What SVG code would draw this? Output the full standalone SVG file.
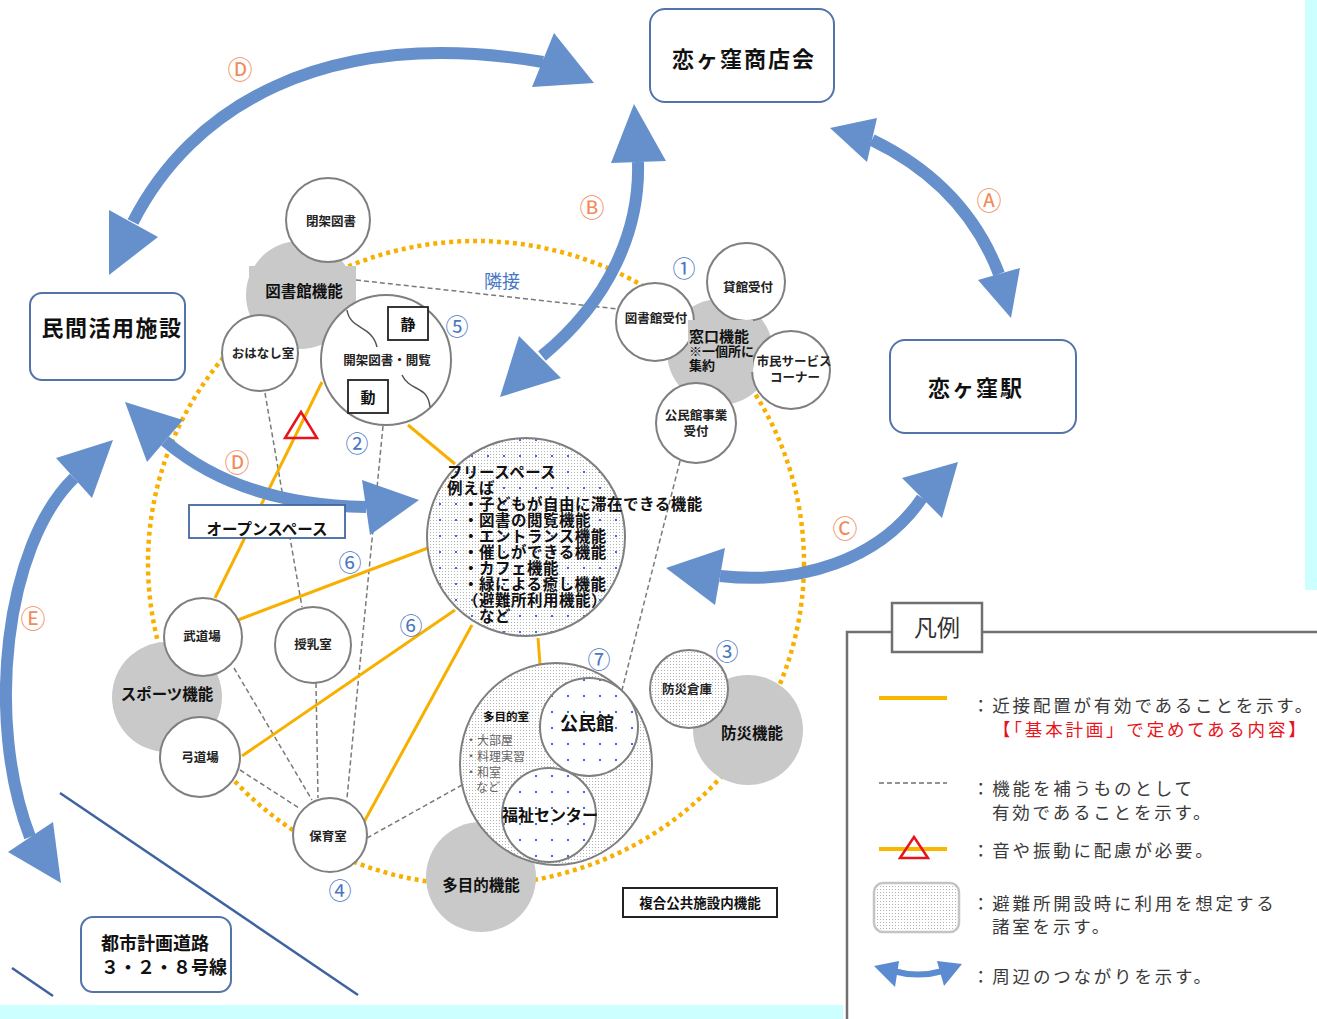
<svg xmlns="http://www.w3.org/2000/svg" width="1317" height="1019" viewBox="0 0 1317 1019">
<defs>
<style>
text{font-family:"Noto Sans CJK JP","Noto Sans",sans-serif;fill:#111}
.box{fill:#fff;stroke:#5374aa;stroke-width:2}
.big{font-size:22px;font-weight:700;letter-spacing:2px;text-anchor:middle}
.node{fill:#fff;stroke:#7f7f7f;stroke-width:2}
.func{fill:#c9c9c9}
.flbl{font-size:15.5px;font-weight:700;text-anchor:middle}
.nlbl{font-size:12.5px;font-weight:700;text-anchor:middle;fill:#222}
.orange{stroke:#f8b000;stroke-width:3;fill:none}
.dash{stroke:#7a7a7a;stroke-width:1.5;stroke-dasharray:5 3;fill:none}
.arrow{stroke:#6690cc;stroke-width:12;fill:none}
.head{fill:#6690cc}
.num{font-size:23px;fill:#4a78c4;text-anchor:middle;dominant-baseline:central}
.let{font-size:25px;fill:#f28b5b;text-anchor:middle;dominant-baseline:central}
.leg{font-size:17.5px;fill:#3a3a3a;letter-spacing:2.8px}
.fs{font-size:15.5px;font-weight:700;letter-spacing:0.5px}
</style>
<pattern id="stip" width="3" height="3" patternUnits="userSpaceOnUse"><rect width="3" height="3" fill="#fff"/><rect x="1" y="1" width="1" height="1" fill="#b4b4b4"/></pattern>
<pattern id="bdot" width="16" height="16" patternUnits="userSpaceOnUse"><rect x="7" y="7" width="2" height="2" fill="#3d6fd6"/></pattern>
</defs>
<rect width="1317" height="1019" fill="#fff"/>
<rect x="1305" y="0" width="12" height="590" fill="#ccffff"/>
<rect x="0" y="1005" width="843" height="14" fill="#ccffff"/>

<g id="road-lines" stroke="#3f62a0" stroke-width="2.5">
<line x1="60" y1="793" x2="358" y2="995"/>
<line x1="12" y1="968" x2="53" y2="996"/>
</g>

<ellipse id="boundary" cx="476" cy="563" rx="328" ry="322" fill="none" stroke="#f8b000" stroke-width="4.5" stroke-dasharray="4 4"/>

<g id="connectors">
<line class="dash" x1="356" y1="280" x2="618" y2="309"/>
<line class="dash" x1="265" y1="393" x2="302" y2="607"/>
<line class="dash" x1="383" y1="426" x2="347" y2="798"/>
<line class="dash" x1="316" y1="683" x2="318" y2="798"/>
<line class="dash" x1="234" y1="668" x2="312" y2="800"/>
<line class="dash" x1="240" y1="770" x2="299" y2="808"/>
<line class="dash" x1="367" y1="838" x2="462" y2="785"/>
<line class="dash" x1="680" y1="461" x2="622" y2="690"/>
<line class="orange" x1="322" y1="382" x2="215" y2="598"/>
<line class="orange" x1="408" y1="425" x2="455" y2="464"/>
<line class="orange" x1="238" y1="620" x2="428" y2="548"/>
<line class="orange" x1="242" y1="756" x2="455" y2="610"/>
<line class="orange" x1="364" y1="822" x2="472" y2="625"/>
<line class="orange" x1="538" y1="638" x2="540" y2="664"/>
<polygon id="noise-mark" points="301,412 317,438 285,438" fill="none" stroke="#e8141b" stroke-width="2.5"/>
<text x="502" y="288" font-size="18" text-anchor="middle" style="fill:#4a78c4">隣接</text>
</g>

<g id="library-function">
<circle class="func" cx="300" cy="295" r="54"/>
<rect class="func" x="249" y="266" width="107" height="38"/>
<text class="flbl" x="304" y="297">図書館機能</text>
</g>
<g id="sports-function">
<circle class="func" cx="167" cy="697" r="55"/>
<text class="flbl" x="167" y="700">スポーツ機能</text>
</g>
<g id="disaster-function">
<circle class="func" cx="748" cy="730" r="55"/>
<text class="flbl" x="752" y="739">防災機能</text>
</g>
<g id="multipurpose-function">
<circle class="func" cx="481" cy="877" r="55"/>
<text class="flbl" x="481" y="891">多目的機能</text>
</g>
<g id="window-function-area">
<circle class="func" cx="720" cy="352" r="53"/>
</g>

<g id="closed-stacks"><circle class="node" cx="328" cy="220" r="42"/><text class="nlbl" x="331" y="226">閉架図書</text></g>
<g id="storytelling-room"><circle class="node" cx="260" cy="353" r="38"/><text class="nlbl" x="263" y="358">おはなし室</text></g>
<g id="open-stacks">
<circle class="node" cx="386" cy="360" r="65"/>
<path d="M347,310 C350,330 372,325 377,347" fill="none" stroke="#555" stroke-width="1.5"/>
<path d="M402,375 C410,392 428,385 430,407" fill="none" stroke="#555" stroke-width="1.5"/>
<rect x="388" y="307" width="40" height="33" fill="#fff" stroke="#222" stroke-width="1.8"/>
<text x="408" y="330" font-size="15" font-weight="700" text-anchor="middle">静</text>
<rect x="348" y="380" width="40" height="33" fill="#fff" stroke="#222" stroke-width="1.8"/>
<text x="368" y="403" font-size="15" font-weight="700" text-anchor="middle">動</text>
<text class="nlbl" x="387" y="365">開架図書・閲覧</text>
</g>
<g id="library-reception"><circle class="node" cx="655" cy="322" r="39"/><text class="nlbl" x="656" y="323">図書館受付</text></g>
<g id="rental-reception"><circle class="node" cx="746" cy="282" r="39"/><text class="nlbl" x="748" y="292">貸館受付</text></g>
<g id="citizen-service"><circle class="node" cx="791" cy="370" r="39"/><text class="nlbl" x="794" y="366">市民サービス</text><text class="nlbl" x="795" y="382">コーナー</text></g>
<g id="community-reception"><circle class="node" cx="696" cy="423" r="40"/><text class="nlbl" x="696" y="420">公民館事業</text><text class="nlbl" x="696" y="436">受付</text></g>
<g id="window-function-label">
<rect class="func" x="688" y="320" width="65" height="52"/>
<text x="689" y="342" font-size="15" font-weight="700">窓口機能</text>
<text x="689" y="356" font-size="13" font-weight="700">※一個所に</text>
<text x="689" y="370" font-size="13" font-weight="700">集約</text>
</g>
<g id="budo-hall"><circle class="node" cx="203" cy="637" r="39"/><text class="nlbl" x="202" y="641">武道場</text></g>
<g id="nursing-room"><circle class="node" cx="313" cy="645" r="38"/><text class="nlbl" x="313" y="649">授乳室</text></g>
<g id="archery-hall"><circle class="node" cx="200" cy="757" r="40"/><text class="nlbl" x="200" y="762">弓道場</text></g>
<g id="nursery"><circle class="node" cx="330" cy="835" r="37"/><text class="nlbl" x="328" y="841">保育室</text></g>
<g id="disaster-storage"><circle cx="689" cy="689" r="39" fill="url(#stip)" stroke="#7f7f7f" stroke-width="2"/><text class="nlbl" x="687" y="694">防災倉庫</text></g>

<g id="free-space">
<circle cx="526" cy="537" r="99" fill="url(#stip)"/>
<circle cx="526" cy="537" r="99" fill="url(#bdot)" stroke="#7f7f7f" stroke-width="2"/>
<text class="fs" x="447" y="478">フリースペース</text>
<text class="fs" x="447" y="494">例えば</text>
<text class="fs" x="463" y="510">・子どもが自由に滞在できる機能</text>
<text class="fs" x="463" y="526">・図書の閲覧機能</text>
<text class="fs" x="463" y="542">・エントランス機能</text>
<text class="fs" x="463" y="558">・催しができる機能</text>
<text class="fs" x="463" y="574">・カフェ機能</text>
<text class="fs" x="463" y="590">・緑による癒し機能</text>
<text class="fs" x="463" y="606">（避難所利用機能）</text>
<text class="fs" x="479" y="622">など</text>
</g>

<g id="community-center">
<ellipse cx="556" cy="764" rx="96" ry="101" fill="url(#stip)" stroke="#7f7f7f" stroke-width="2"/>
<text x="506" y="721" font-size="11.5" font-weight="700" text-anchor="middle">多目的室</text>
<text x="465" y="745" font-size="12" style="fill:#666">・大部屋</text>
<text x="465" y="761" font-size="12" style="fill:#666">・料理実習</text>
<text x="465" y="777" font-size="12" style="fill:#666">・和室</text>
<text x="476" y="792" font-size="12" style="fill:#666">など</text>
<circle cx="589" cy="727" r="49" fill="#fff"/>
<circle cx="589" cy="727" r="49" fill="url(#bdot)" stroke="#7f7f7f" stroke-width="2"/>
<text x="587" y="730" font-size="18" font-weight="700" text-anchor="middle">公民館</text>
<circle cx="549" cy="815" r="47" fill="#fff"/>
<circle cx="549" cy="815" r="47" fill="url(#bdot)" stroke="#7f7f7f" stroke-width="2"/>
<text x="550" y="821" font-size="16" font-weight="700" text-anchor="middle">福祉センター</text>
</g>

<g id="complex-label">
<rect x="623" y="888" width="154" height="29" fill="#fff" stroke="#222" stroke-width="2"/>
<text x="700" y="908" font-size="13.5" font-weight="700" text-anchor="middle">複合公共施設内機能</text>
</g>

<g id="shotenkai"><rect class="box" x="650" y="9" width="184" height="93" rx="15"/><text class="big" x="744" y="67">恋ヶ窪商店会</text></g>
<g id="minkan"><rect class="box" x="30" y="293" width="155" height="87" rx="12"/><text class="big" x="112" y="336" style="letter-spacing:1.5px">民間活用施設</text></g>
<g id="station"><rect class="box" x="890" y="340" width="186" height="93" rx="15"/><text class="big" x="976" y="396">恋ヶ窪駅</text></g>
<g id="road"><rect class="box" x="81" y="917" width="150" height="75" rx="12"/><text x="155" y="950" font-size="18" font-weight="700" text-anchor="middle">都市計画道路</text><text x="101" y="974" font-size="18" font-weight="700">３・２・８号線</text></g>

<g id="arrows">
<path class="arrow" d="M133,222 C190,110 320,25 543,62"/>
<polygon class="head" points="109,210 158,237 109,275"/>
<polygon class="head" points="554,33 594,83 532,87"/>
<path class="arrow" d="M638,162 C640,230 610,300 542,356"/>
<polygon class="head" points="634,104 666,161 611,163"/>
<polygon class="head" points="519,336 561,378 500,397"/>
<path class="arrow" d="M872,140 Q965,185 999,274"/>
<polygon class="head" points="830,128 877,118 867,162"/>
<polygon class="head" points="978,280 1020,268 1011,318"/>
<path class="arrow" d="M720,576 C800,585 880,560 922,498"/>
<polygon class="head" points="666,568 725,548 715,605"/>
<polygon class="head" points="958,462 902,478 942,518"/>
<path class="arrow" d="M165,441 Q240,505 366,507"/>
<polygon class="head" points="125,402 183,420 147,462"/>
<polygon class="head" points="362,480 419,500 370,535"/>
<path class="arrow" d="M74,478 C5,545 -15,720 30,837"/>
<polygon class="head" points="113,440 56,458 92,498"/>
<polygon class="head" points="61,883 8,852 53,822"/>
</g>

<g id="open-space">
<rect x="189" y="505" width="156" height="33" fill="#fff" stroke="#4466a0" stroke-width="1.8"/>
<text x="267" y="535" font-size="15.5" font-weight="700" text-anchor="middle">オープンスペース</text>
</g>

<g id="markers">
<text class="num" x="684" y="267">①</text>
<text class="num" x="357" y="442">②</text>
<text class="num" x="727" y="650">③</text>
<text class="num" x="340" y="889">④</text>
<text class="num" x="457" y="325">⑤</text>
<text class="num" x="350" y="561">⑥</text>
<text class="num" x="411" y="624">⑥</text>
<text class="num" x="599" y="658">⑦</text>
<text class="let" x="240" y="68">Ⓓ</text>
<text class="let" x="592" y="206">Ⓑ</text>
<text class="let" x="989" y="199">Ⓐ</text>
<text class="let" x="237" y="461">Ⓓ</text>
<text class="let" x="33" y="617">Ⓔ</text>
<text class="let" x="845" y="527">Ⓒ</text>
</g>

<g id="legend">
<polyline points="847,1019 847,632 1317,632" fill="none" stroke="#707070" stroke-width="2.5"/>
<rect x="892" y="603" width="90" height="49" fill="#fff" stroke="#707070" stroke-width="2.5"/>
<text x="937" y="636" font-size="23" text-anchor="middle" style="fill:#333">凡例</text>
<line x1="879" y1="698" x2="947" y2="698" stroke="#f8b800" stroke-width="4"/>
<text class="leg" x="972" y="712">：近接配置が有効であることを示す。</text>
<text class="leg" x="993" y="736" style="fill:#e8141b">【「基本計画」で定めてある内容】</text>
<line x1="879" y1="783" x2="947" y2="783" stroke="#707070" stroke-width="1.5" stroke-dasharray="5 3"/>
<text class="leg" x="972" y="795">：機能を補うものとして</text>
<text class="leg" x="992" y="819">有効であることを示す。</text>
<line x1="879" y1="849" x2="947" y2="849" stroke="#f8b800" stroke-width="4"/>
<polygon points="914,837 928,858 900,858" fill="none" stroke="#e8141b" stroke-width="2.5"/>
<text class="leg" x="972" y="857">：音や振動に配慮が必要。</text>
<rect x="874" y="883" width="85" height="49" rx="9" fill="url(#stip)" stroke="#c4c4c4" stroke-width="2.5"/>
<text class="leg" x="972" y="910">：避難所開設時に利用を想定する</text>
<text class="leg" x="992" y="933">諸室を示す。</text>
<path d="M893,971 Q918,978 943,971" fill="none" stroke="#5b8bd0" stroke-width="6"/>
<polygon points="874,966 899,961 895,987" fill="#5b8bd0"/>
<polygon points="962,964 937,961 944,986" fill="#5b8bd0"/>
<text class="leg" x="972" y="983">：周辺のつながりを示す。</text>
</g>
</svg>
